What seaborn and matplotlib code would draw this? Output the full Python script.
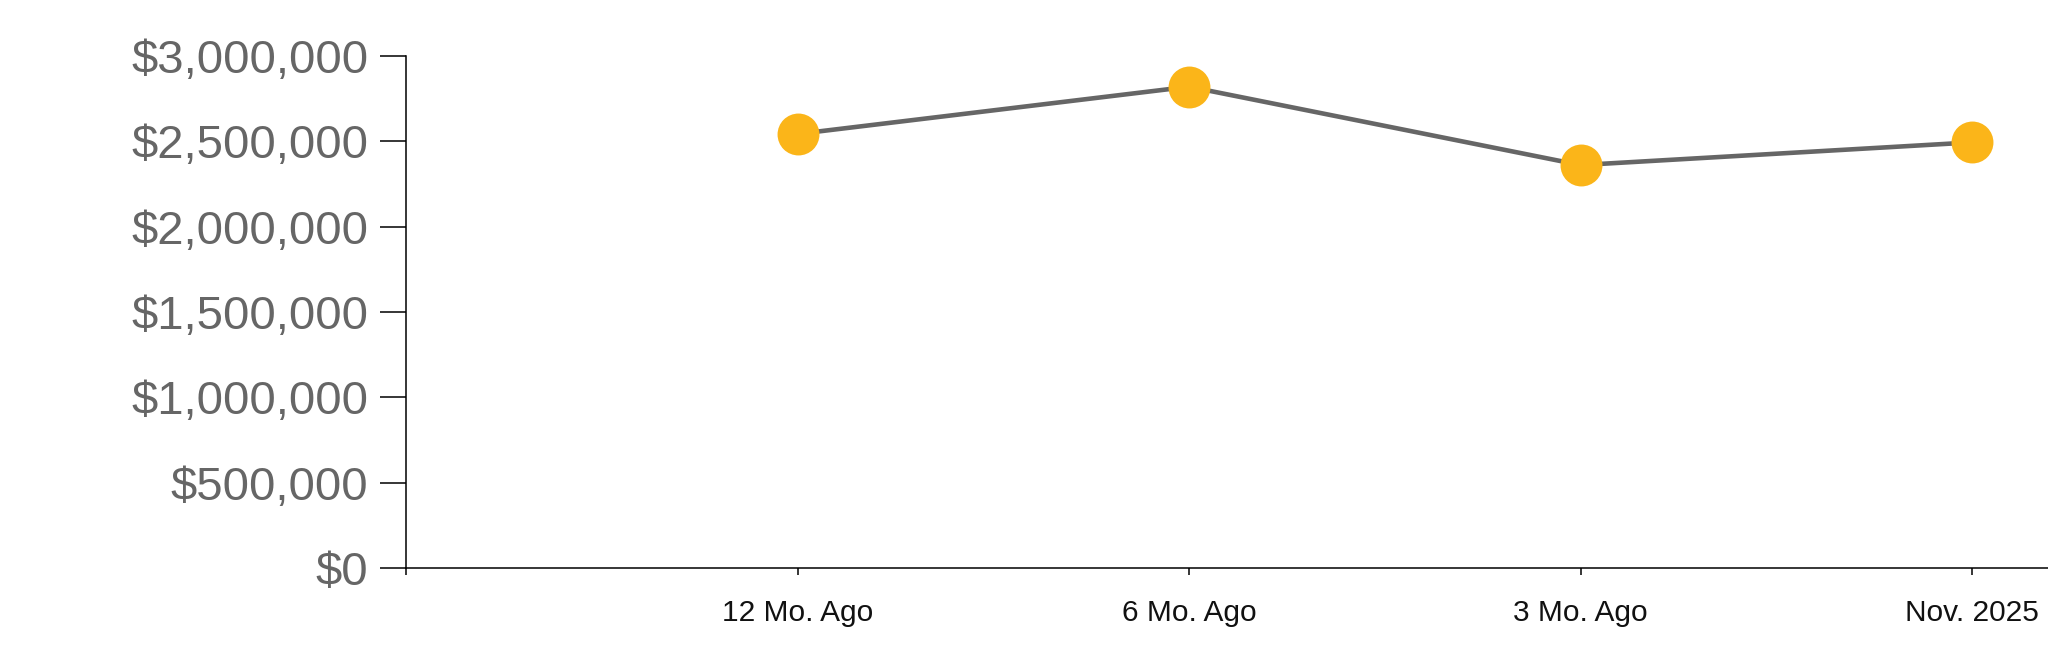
import numpy as np
import pandas as pd
import matplotlib
matplotlib.use("Agg")
import matplotlib.pyplot as plt
import seaborn as sns
from matplotlib.ticker import FuncFormatter

# data
periods = ["12 Mo. Ago", "6 Mo. Ago", "3 Mo. Ago", "Nov. 2025"]
values = [2543000, 2820000, 2361000, 2494000]
y_ticks = [0, 500000, 1000000, 1500000, 2000000, 2500000, 3000000]

sns.set_theme(style="white")
plt.rcParams["font.family"] = ["Liberation Sans", "DejaVu Sans"]

df = pd.DataFrame({"period": periods, "value": values})
df["pos"] = np.arange(1, len(periods) + 1)

fig = plt.figure(figsize=(20.48, 6.63), dpi=100)
ax = fig.add_axes([406 / 2048, 1 - 568 / 663, 1 - 406 / 2048, (568 - 56) / 663])

sns.lineplot(data=df, x="pos", y="value", color="#666666", linewidth=3.3, ax=ax, zorder=2)
sns.scatterplot(data=df, x="pos", y="value", color="#FBB519", s=910, linewidth=0,
                ax=ax, zorder=3, clip_on=False)

ax.set_xlim(0, 4.194)
ax.set_ylim(0, 3000000)
ax.set_xticks([0] + list(df["pos"]))
ax.set_xticklabels([""] + periods)
ax.set_yticks(y_ticks)
ax.yaxis.set_major_formatter(FuncFormatter(lambda v, p: f"${v:,.0f}"))
ax.set_xlabel("")
ax.set_ylabel("")

for s in ["top", "right"]:
    ax.spines[s].set_visible(False)
for s in ["left", "bottom"]:
    ax.spines[s].set_color("#000000")
    ax.spines[s].set_linewidth(1.1)

ax.tick_params(axis="y", which="major", left=True, length=19, width=1.1, color="#000000",
               labelsize=34, labelcolor="#666666", pad=8)
ax.tick_params(axis="x", which="major", bottom=True, length=5, width=1.1, color="#000000",
               labelsize=21.5, labelcolor="#111111", pad=17)
ax.grid(False)

fig.savefig("out.png", dpi=100)
